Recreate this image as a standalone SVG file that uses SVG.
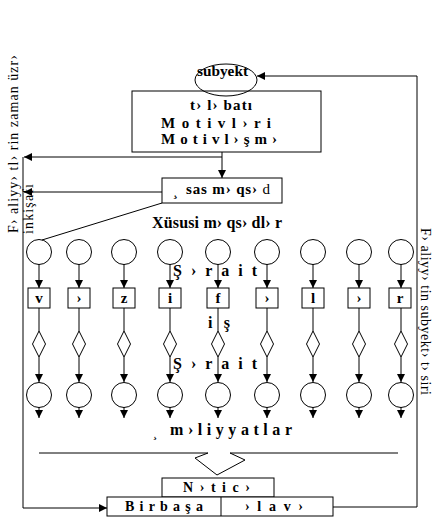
<svg xmlns="http://www.w3.org/2000/svg" width="441" height="517" viewBox="0 0 441 517">
<style>
.ln{stroke:#000;stroke-width:1;fill:none}
.ar{stroke:#000;stroke-width:1;fill:none;marker-end:url(#ah)}
.bx{stroke:#000;stroke-width:1;fill:#fff}
.sh{stroke:#000;stroke-width:1;fill:none}
.b{font-family:"Liberation Serif","Times New Roman",serif;font-weight:bold;fill:#000}
.n{font-family:"Liberation Serif","Times New Roman",serif;font-weight:normal;fill:#000}
</style>
<defs>
<marker id="ah" markerUnits="userSpaceOnUse" markerWidth="9" markerHeight="9" refX="8" refY="4" orient="auto">
<path d="M0,0 L8,4 L0,8 z" fill="#000"/>
</marker>
</defs>
<rect width="441" height="517" fill="#fff"/>

<g id="connectors">
<line class="ar" x1="417" y1="76" x2="257" y2="76"/>
<polyline class="ln" points="333,507 417,507 417,76"/>
<line class="ar" x1="222" y1="152" x2="222" y2="178"/>
<line class="ar" x1="222" y1="157" x2="24" y2="157"/>
<line class="ar" x1="162" y1="192" x2="24" y2="192"/>
<line class="ln" x1="23" y1="157" x2="23" y2="508"/>
<line class="ar" x1="23" y1="508" x2="107" y2="508"/>
<line class="ln" x1="162" y1="203" x2="42" y2="240"/>
<g id="col-connectors">
<line class="ar" x1="39" y1="264" x2="39" y2="288"/><line class="ln" x1="39" y1="308" x2="39" y2="331"/><line class="ar" x1="39" y1="357" x2="39" y2="382"/><line class="ar" x1="39" y1="407" x2="39" y2="418"/>
<line class="ar" x1="79" y1="264" x2="79" y2="288"/><line class="ln" x1="79" y1="308" x2="79" y2="331"/><line class="ar" x1="79" y1="357" x2="79" y2="382"/><line class="ar" x1="79" y1="407" x2="79" y2="418"/>
<line class="ar" x1="124" y1="264" x2="124" y2="288"/><line class="ln" x1="124" y1="308" x2="124" y2="331"/><line class="ar" x1="124" y1="357" x2="124" y2="382"/><line class="ar" x1="124" y1="407" x2="124" y2="418"/>
<line class="ar" x1="170" y1="264" x2="170" y2="288"/><line class="ln" x1="170" y1="308" x2="170" y2="331"/><line class="ar" x1="170" y1="357" x2="170" y2="382"/><line class="ar" x1="170" y1="407" x2="170" y2="418"/>
<line class="ar" x1="218" y1="264" x2="218" y2="288"/><line class="ln" x1="218" y1="308" x2="218" y2="331"/><line class="ar" x1="218" y1="357" x2="218" y2="382"/><line class="ar" x1="218" y1="407" x2="218" y2="418"/>
<line class="ar" x1="267" y1="264" x2="267" y2="288"/><line class="ln" x1="267" y1="308" x2="267" y2="331"/><line class="ar" x1="267" y1="357" x2="267" y2="382"/><line class="ar" x1="267" y1="407" x2="267" y2="418"/>
<line class="ar" x1="313" y1="264" x2="313" y2="288"/><line class="ln" x1="313" y1="308" x2="313" y2="331"/><line class="ar" x1="313" y1="357" x2="313" y2="382"/><line class="ar" x1="313" y1="407" x2="313" y2="418"/>
<line class="ar" x1="359" y1="264" x2="359" y2="288"/><line class="ln" x1="359" y1="308" x2="359" y2="331"/><line class="ar" x1="359" y1="357" x2="359" y2="382"/><line class="ar" x1="359" y1="407" x2="359" y2="418"/>
<line class="ar" x1="401" y1="264" x2="401" y2="288"/><line class="ln" x1="401" y1="308" x2="401" y2="331"/><line class="ar" x1="401" y1="357" x2="401" y2="382"/><line class="ar" x1="401" y1="407" x2="401" y2="418"/>
</g>
<line class="ln" x1="39" y1="453" x2="208" y2="453"/>
<line class="ln" x1="230" y1="453" x2="398" y2="453"/>
<polyline class="ln" points="208,453 195,458 217,475 245,460 230,453"/>
</g>

<g id="box-motiv">
<rect class="bx" x="132" y="91" width="189" height="61"/>
<text class="b" x="221" y="110" font-size="15" text-anchor="middle" textLength="62" lengthAdjust="spacing">t› l› batı</text>
<text class="b" x="161" y="128" font-size="15" textLength="110" lengthAdjust="spacing">M o t i v l › r i</text>
<text class="b" x="161" y="144" font-size="15" textLength="116" lengthAdjust="spacing">M o t i v l › ş m ›</text>
</g>

<g id="subyekt">
<ellipse class="sh" cx="226" cy="80" rx="31" ry="16"/>
<text class="b" x="197" y="76" font-size="15" textLength="51" lengthAdjust="spacingAndGlyphs">subyekt</text>
</g>

<g id="box-esas">
<rect class="bx" x="162" y="178" width="120" height="25"/>
<text class="b" x="173" y="196" font-size="14">¸</text>
<text class="b" x="186" y="194" font-size="15" textLength="84" lengthAdjust="spacing">sas m› qs› <tspan font-weight="normal">d</tspan></text>
</g>

<g id="label-xususi">
<text class="b" x="152" y="228" font-size="16" textLength="130" lengthAdjust="spacing">Xüsusi m› qs› dl› r</text>
</g>

<g id="row-top-circles">
<circle class="sh" cx="39" cy="252" r="12.5"/>
<circle class="sh" cx="79" cy="252" r="12.5"/>
<circle class="sh" cx="124" cy="252" r="12.5"/>
<circle class="sh" cx="170" cy="252" r="12.5"/>
<circle class="sh" cx="218" cy="252" r="12.5"/>
<circle class="sh" cx="267" cy="252" r="12.5"/>
<circle class="sh" cx="313" cy="252" r="12.5"/>
<circle class="sh" cx="359" cy="252" r="12.5"/>
<circle class="sh" cx="401" cy="252" r="12.5"/>
</g>

<g id="label-serait-1">
<text class="b" x="173" y="276" font-size="16" textLength="84" lengthAdjust="spacing">Ş › r a i t</text>
</g>

<g id="task-boxes">
<rect class="bx" x="28" y="288" width="22" height="20"/><text class="b" x="39" y="303" font-size="15" text-anchor="middle">v</text>
<rect class="bx" x="68" y="288" width="22" height="20"/><text class="b" x="79" y="303" font-size="15" text-anchor="middle">›</text>
<rect class="bx" x="113" y="288" width="22" height="20"/><text class="b" x="124" y="303" font-size="15" text-anchor="middle">z</text>
<rect class="bx" x="159" y="288" width="22" height="20"/><text class="b" x="170" y="303" font-size="15" text-anchor="middle">i</text>
<rect class="bx" x="207" y="288" width="22" height="20"/><text class="b" x="218" y="303" font-size="15" text-anchor="middle">f</text>
<rect class="bx" x="256" y="288" width="22" height="20"/><text class="b" x="267" y="303" font-size="15" text-anchor="middle">›</text>
<rect class="bx" x="302" y="288" width="22" height="20"/><text class="b" x="313" y="303" font-size="15" text-anchor="middle">l</text>
<rect class="bx" x="348" y="288" width="22" height="20"/><text class="b" x="359" y="303" font-size="15" text-anchor="middle">›</text>
<rect class="bx" x="389" y="288" width="22" height="20"/><text class="b" x="400" y="303" font-size="15" text-anchor="middle">r</text>
</g>

<g id="label-is">
<text class="b" x="208" y="328" font-size="16" textLength="22" lengthAdjust="spacing">i ş</text>
</g>

<g id="diamonds">
<polygon class="sh" points="39,331 45.5,344 39,357 32.5,344"/>
<polygon class="sh" points="79,331 85.5,344 79,357 72.5,344"/>
<polygon class="sh" points="124,331 130.5,344 124,357 117.5,344"/>
<polygon class="sh" points="170,331 176.5,344 170,357 163.5,344"/>
<polygon class="sh" points="218,331 224.5,344 218,357 211.5,344"/>
<polygon class="sh" points="267,331 273.5,344 267,357 260.5,344"/>
<polygon class="sh" points="313,331 319.5,344 313,357 306.5,344"/>
<polygon class="sh" points="359,331 365.5,344 359,357 352.5,344"/>
<polygon class="sh" points="401,331 407.5,344 401,357 394.5,344"/>
</g>

<g id="label-serait-2">
<text class="b" x="173" y="369" font-size="16" textLength="84" lengthAdjust="spacing">Ş › r a i t</text>
</g>

<g id="row-bottom-circles">
<circle class="sh" cx="39" cy="395" r="12.5"/>
<circle class="sh" cx="79" cy="395" r="12.5"/>
<circle class="sh" cx="124" cy="395" r="12.5"/>
<circle class="sh" cx="170" cy="395" r="12.5"/>
<circle class="sh" cx="218" cy="395" r="12.5"/>
<circle class="sh" cx="267" cy="395" r="12.5"/>
<circle class="sh" cx="313" cy="395" r="12.5"/>
<circle class="sh" cx="359" cy="395" r="12.5"/>
<circle class="sh" cx="401" cy="395" r="12.5"/>
</g>

<g id="label-emeliyyatlar">
<text class="b" x="153" y="437" font-size="12">¸</text>
<text class="b" x="170" y="435" font-size="16" textLength="122" lengthAdjust="spacing">m › l i y y a t l a r</text>
</g>

<g id="box-netice">
<rect class="bx" x="162" y="478" width="112" height="19"/>
<text class="b" x="183" y="492" font-size="14" textLength="67" lengthAdjust="spacing">N › t i c ›</text>
</g>

<g id="box-birbasa">
<rect class="bx" x="107" y="497" width="226" height="19"/>
<line class="ln" x1="221" y1="497" x2="221" y2="516"/>
<text class="b" x="125" y="511" font-size="14" textLength="78" lengthAdjust="spacing">B i r b a ş a</text>
<text class="b" x="245" y="511" font-size="14" textLength="58" lengthAdjust="spacing">› l a v ›</text>
</g>

<g id="label-left">
<text class="n" transform="translate(18,233) rotate(-90)" font-size="14" textLength="178" lengthAdjust="spacing">F› aliyy› tl› rin zaman üzr›</text>
<text class="n" transform="translate(33,234) rotate(-90)" font-size="14" textLength="50" lengthAdjust="spacing">inkişafı</text>
</g>

<g id="label-right">
<text class="n" transform="translate(421,228) rotate(90)" font-size="14" textLength="167" lengthAdjust="spacing">F› aliyy› tin subyekt› t› siri</text>
</g>
</svg>
